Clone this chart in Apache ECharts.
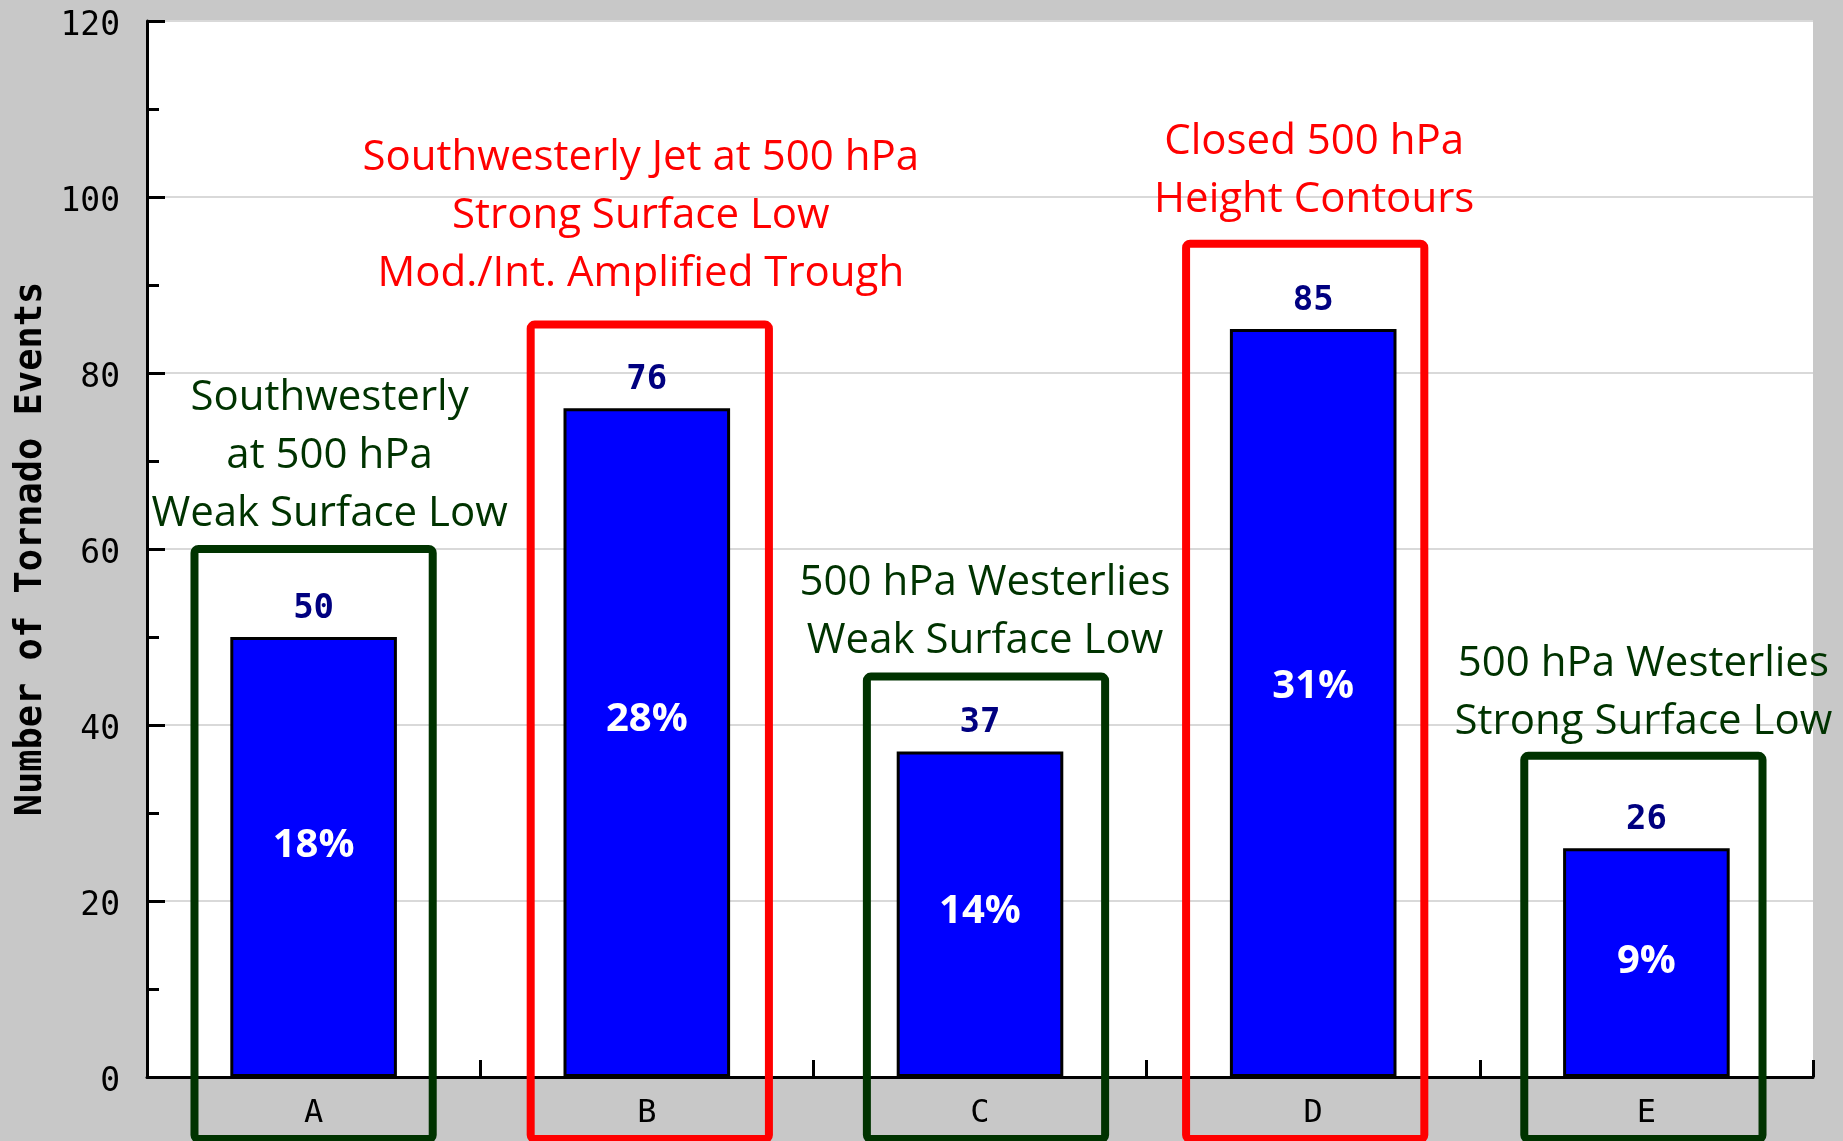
<!DOCTYPE html>
<html>
<head>
<meta charset="utf-8">
<script src="https://cdn.jsdelivr.net/npm/echarts@6/dist/echarts.min.js"></script>
<style>
  html, body { margin: 0; padding: 0; background: #c8c8c8; }
  #chart { width: 1843px; height: 1141px; }
</style>
</head>
<body>
<div id="chart"></div>
<script>
// ---------------- data ----------------
const categories = ['A', 'B', 'C', 'D', 'E'];
const eventCounts = [50, 76, 37, 85, 26];
const percentLabels = ['18%', '28%', '14%', '31%', '9%'];
const yAxisMin = 0;
const yAxisMax = 120;
const yAxisStep = 20;
const yAxisTitle = 'Number of Tornado Events';
// annotation boxes: top edge (in axis units) and caption lines
const boxTopValues = [60, 85.5, 45.5, 94.7, 36.5];
const boxKinds = ['weak', 'strong', 'weak', 'strong', 'weak'];
const noteA = ['Southwesterly', 'at 500 hPa', 'Weak Surface Low'];
const noteB = ['Southwesterly Jet at 500 hPa', 'Strong Surface Low', 'Mod./Int. Amplified Trough'];
const noteC = ['500 hPa Westerlies', 'Weak Surface Low'];
const noteD = ['Closed 500 hPa', 'Height Contours'];
const noteE = ['500 hPa Westerlies', 'Strong Surface Low'];
const notes = [noteA, noteB, noteC, noteD, noteE];

// ---------------- styling ----------------
const kindColor = { weak: '#003300', strong: '#ff0000' };
const boxDx = [0, 3, 6, -8, -3];         // px horizontal nudge of boxes
const noteDx = [16, -6, 5, 1, -3];       // px horizontal nudge of captions (from category centre)
const noteLift = [6, 22, 7, 15, 5];      // px gap between caption block and box
const pctShift = [-11, -23, -3, -16, -1];
const monoFont = '"DejaVu Sans Mono", "Liberation Mono", monospace';
const sansFont = '"Open Sans", "Noto Sans", sans-serif';

const chart = echarts.init(document.getElementById('chart'), null, { renderer: 'canvas' });

const boxData = categories.map((c, i) => [i, boxTopValues[i]]);

const option = {
  animation: false,
  backgroundColor: '#c8c8c8',
  grid: {
    left: 147, right: 30, top: 21, bottom: 64,
    show: true, backgroundColor: '#ffffff', borderWidth: 0
  },
  xAxis: {
    type: 'category',
    data: categories,
    boundaryGap: true,
    axisLine: { lineStyle: { color: '#000', width: 3 } },
    axisTick: { show: true, inside: true, length: 17, lineStyle: { color: '#000', width: 3 } },
    axisLabel: { color: '#000', fontFamily: monoFont, fontSize: 32, margin: 21 },
    splitLine: { show: false }
  },
  yAxis: {
    type: 'value',
    min: yAxisMin, max: yAxisMax, interval: yAxisStep,
    name: yAxisTitle,
    nameLocation: 'middle',
    nameGap: 95,
    nameTextStyle: {
      color: '#000', fontFamily: monoFont, fontWeight: 'bold', fontSize: 37
    },
    axisLine: { show: true, lineStyle: { color: '#000', width: 3 } },
    axisTick: { show: true, inside: true, length: 18, lineStyle: { color: '#000', width: 3 } },
    minorTick: { show: true, splitNumber: 2, length: 12, lineStyle: { color: '#000', width: 3 } },
    axisLabel: {
      margin: 27,
      formatter: '{t|{value}}',
      rich: { t: { color: '#000', fontFamily: monoFont, fontSize: 33, padding: [10, 0, 0, 0] } }
    },
    splitLine: { show: true, lineStyle: { color: '#d9d9d9', width: 2 } }
  },
  series: [
    {
      type: 'bar',
      name: 'events',
      data: eventCounts,
      barWidth: '50%',
      itemStyle: { color: '#0000ff', borderColor: '#000', borderWidth: 3 },
      label: {
        show: true, position: 'top', distance: 11,
        color: '#000080', fontFamily: monoFont, fontWeight: 'bold', fontSize: 34
      },
      z: 2
    },
    {
      type: 'bar',
      name: 'share',
      data: eventCounts.map((v, i) => ({
        value: v,
        label: { offset: [0, pctShift[i]], formatter: percentLabels[i] }
      })),
      barWidth: '50%',
      barGap: '-100%',
      itemStyle: { color: 'rgba(0,0,0,0)', borderWidth: 0 },
      label: {
        show: true, position: 'inside',
        color: '#ffffff', fontFamily: sansFont, fontWeight: 'bold', fontSize: 40
      },
      silent: true,
      z: 3
    },
    {
      type: 'custom',
      name: 'boxes',
      data: boxData,
      clip: false,
      silent: true,
      z: 5,
      renderItem: function (params, api) {
        const i = api.value(0);
        const topPt = api.coord([i, api.value(1)]);
        const basePt = api.coord([i, 0]);
        const band = api.size([1, 0])[0];
        const boxW = band * 0.715;
        const yTop = topPt[1];
        const yBot = basePt[1] + 62;
        const col = kindColor[boxKinds[i]];
        const cx = topPt[0] + boxDx[i];
        return {
          type: 'group',
          children: [
            {
              type: 'rect',
              shape: { x: cx - boxW / 2, y: yTop, width: boxW, height: yBot - yTop, r: 4 },
              style: { fill: 'none', stroke: col, lineWidth: 8 }
            },
            {
              type: 'text',
              style: {
                text: notes[i].join('\n'),
                x: topPt[0] + noteDx[i],
                y: yTop - noteLift[i],
                align: 'center',
                verticalAlign: 'bottom',
                fill: col,
                fontFamily: sansFont,
                fontSize: 42,
                lineHeight: 58
              }
            }
          ]
        };
      }
    }
  ]
};

chart.setOption(option);
</script>
</body>
</html>
